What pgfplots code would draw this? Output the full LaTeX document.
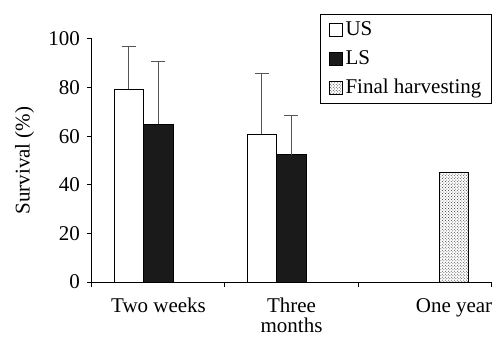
\documentclass[border=0pt]{standalone}
\usepackage{fontspec}
\setmainfont{Liberation Serif}
\usepackage{pgfplots}
\pgfplotsset{compat=1.18}
\usetikzlibrary{patterns}
\definecolor{errgray}{HTML}{555555}
\definecolor{barblack}{HTML}{1A1A1A}
\newcommand{\chartfont}{\fontsize{21bp}{20bp}\selectfont}
\begin{document}
\chartfont
\begin{tikzpicture}
\begin{axis}[
  at={(0,0)}, anchor=south west,
  scale only axis, width=399bp, height=243bp,
  xmin=-0.5, xmax=2.5, ymin=0, ymax=100,
  axis x line*=bottom, axis y line*=left,
  axis line style={line width=1bp},
  tick style={line width=1bp, black},
  tick align=outside,
  major tick length=5bp,
  tick label style={font=\chartfont},
  label style={font=\chartfont},
  /pgf/number format/assume math mode=true,
  ytick={0,20,40,60,80,100},
  xtick={-0.5,0.5,1.5,2.5},
  xticklabels={},
  extra x ticks={0,1,2.222},
  extra x tick labels={Two weeks,{Three\\months},One year},
  extra x tick style={major tick length=0pt, x tick label style={align=center, font=\chartfont, yshift=-9bp}},
  ylabel={Survival (\%)},
  ylabel style={yshift=0bp},
  ybar=0pt, bar width=29.5bp,
  legend style={at={(1.002,1.102)}, anchor=north east, draw=black, line width=0.8bp,
    legend cell align=left, row sep=7.5bp, inner xsep=8bp, inner ysep=5bp,
    font=\chartfont, nodes={font=\chartfont}},
  legend image code/.code={\draw[#1, line width=0.8bp] (0bp,-6.5bp) rectangle (13bp,6.5bp); \path (14bp,0bp);},
  error bars/error bar style={color=errgray, line width=1bp},
  error bars/error mark options={rotate=90, mark size=7bp, color=errgray, line width=1bp},
]
\addplot[fill=white, draw=black, line width=0.9bp,
  error bars/.cd, y dir=plus, y explicit]
  coordinates {(0,79.4) +- (0,17.4) (1,60.9) +- (0,24.7)};
\addlegendentry{US}
\addplot[fill=barblack, draw=black, line width=0.9bp,
  error bars/.cd, y dir=plus, y explicit]
  coordinates {(0,65.0) +- (0,25.7) (1,52.3) +- (0,16.4)};
\addlegendentry{LS}
\addplot[pattern=crosshatch dots, pattern color=black!80, draw=black, line width=0.9bp]
  coordinates {(2,44.9)};
\addlegendentry{Final harvesting}
\end{axis}
\pgfresetboundingbox
\useasboundingbox (-92bp,-55bp) rectangle (406bp,282bp);
\end{tikzpicture}
\end{document}
